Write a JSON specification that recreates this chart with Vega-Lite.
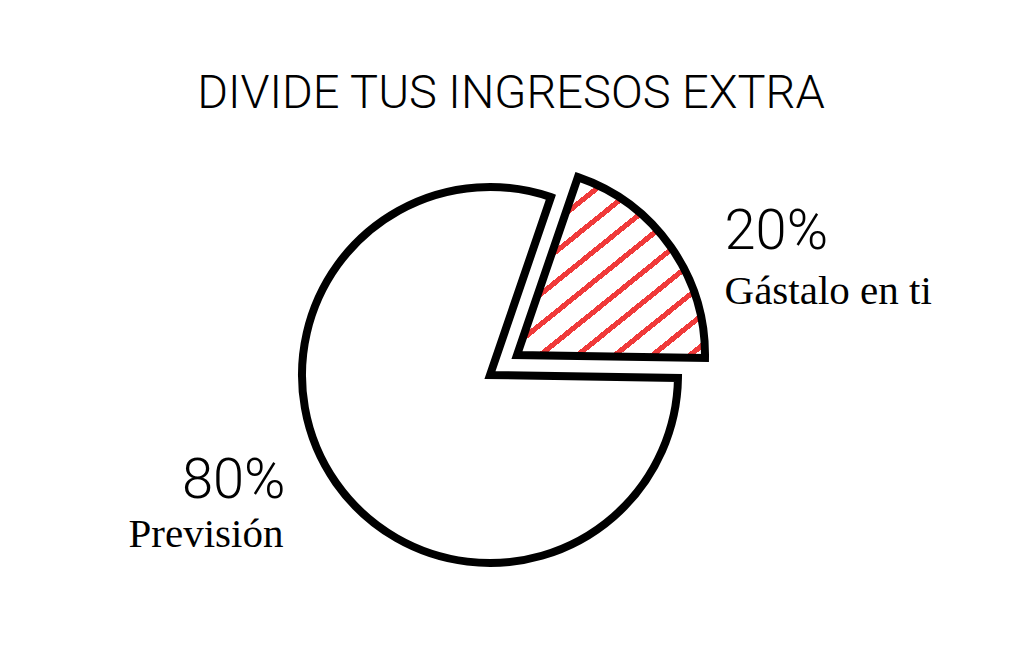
{
  "$schema": "https://vega.github.io/schema/vega-lite/v6.json",
  "width": 980,
  "height": 558,
  "autosize": {"type": "none"},
  "padding": {"left": 0, "top": 96, "right": 44, "bottom": 0},
  "background": "white",
  "title": {
    "text": "DIVIDE TUS INGRESOS EXTRA",
    "font": "Roboto",
    "fontSize": 47,
    "fontWeight": 300,
    "color": "black",
    "anchor": "middle",
    "frame": "group",
    "offset": 0,
    "baseline": "alphabetic",
    "dy": 59,
    "dx": 21
  },
  "config": {"view": {"stroke": null}},
  "data": {
    "values": [
      {"categoria": "Gástalo en ti", "porcentaje": 20, "etiqueta": "20%"},
      {"categoria": "Previsión", "porcentaje": 80, "etiqueta": "80%"}
    ]
  },
  "encoding": {
    "theta": {"field": "porcentaje", "type": "quantitative", "stack": true, "scale": {"range": [0.33, 6.613]}},
    "order": {"field": "porcentaje", "type": "quantitative", "sort": "ascending"}
  },
  "layer": [
    {
      "mark": {"type": "arc", "radius": 188, "fill": "white", "stroke": "black", "strokeWidth": 8, "strokeJoin": "miter"},
      "encoding": {"opacity": {"condition": {"test": "datum.categoria == 'Previsión'", "value": 1}, "value": 0}}
    },
    {
      "mark": {
        "type": "arc", "radius": 188, "stroke": "black", "strokeWidth": 8, "strokeJoin": "miter",
        "xOffset": 27, "yOffset": -20,
        "fill": {
          "gradient": "linear", "x1": 0, "y1": 0, "x2": 0.906, "y2": 1.08,
          "stops": [
            {"offset": 0, "color": "#ffffff"},
            {"offset": 0.0355, "color": "#ffffff"}, {"offset": 0.0355, "color": "#f03a3a"}, {"offset": 0.0555, "color": "#f03a3a"}, {"offset": 0.0555, "color": "#ffffff"},
            {"offset": 0.1264, "color": "#ffffff"}, {"offset": 0.1264, "color": "#f03a3a"}, {"offset": 0.1464, "color": "#f03a3a"}, {"offset": 0.1464, "color": "#ffffff"},
            {"offset": 0.2173, "color": "#ffffff"}, {"offset": 0.2173, "color": "#f03a3a"}, {"offset": 0.2373, "color": "#f03a3a"}, {"offset": 0.2373, "color": "#ffffff"},
            {"offset": 0.3082, "color": "#ffffff"}, {"offset": 0.3082, "color": "#f03a3a"}, {"offset": 0.3282, "color": "#f03a3a"}, {"offset": 0.3282, "color": "#ffffff"},
            {"offset": 0.3991, "color": "#ffffff"}, {"offset": 0.3991, "color": "#f03a3a"}, {"offset": 0.4191, "color": "#f03a3a"}, {"offset": 0.4191, "color": "#ffffff"},
            {"offset": 0.490, "color": "#ffffff"}, {"offset": 0.490, "color": "#f03a3a"}, {"offset": 0.510, "color": "#f03a3a"}, {"offset": 0.510, "color": "#ffffff"},
            {"offset": 0.5809, "color": "#ffffff"}, {"offset": 0.5809, "color": "#f03a3a"}, {"offset": 0.6009, "color": "#f03a3a"}, {"offset": 0.6009, "color": "#ffffff"},
            {"offset": 0.6718, "color": "#ffffff"}, {"offset": 0.6718, "color": "#f03a3a"}, {"offset": 0.6918, "color": "#f03a3a"}, {"offset": 0.6918, "color": "#ffffff"},
            {"offset": 0.7627, "color": "#ffffff"}, {"offset": 0.7627, "color": "#f03a3a"}, {"offset": 0.7827, "color": "#f03a3a"}, {"offset": 0.7827, "color": "#ffffff"},
            {"offset": 0.8536, "color": "#ffffff"}, {"offset": 0.8536, "color": "#f03a3a"}, {"offset": 0.8736, "color": "#f03a3a"}, {"offset": 0.8736, "color": "#ffffff"},
            {"offset": 0.9445, "color": "#ffffff"}, {"offset": 0.9445, "color": "#f03a3a"}, {"offset": 0.9645, "color": "#f03a3a"}, {"offset": 0.9645, "color": "#ffffff"},
            {"offset": 1, "color": "#ffffff"}
          ]
        }
      },
      "encoding": {"opacity": {"condition": {"test": "datum.categoria == 'Gástalo en ti'", "value": 1}, "value": 0}}
    },
    {
      "mark": {"type": "text", "radius": 250, "font": "Roboto", "fontWeight": 300, "fontSize": 56, "align": "left", "baseline": "alphabetic", "dx": 30, "dy": 18, "color": "black"},
      "encoding": {
        "text": {"field": "etiqueta"},
        "opacity": {"condition": {"test": "datum.categoria == 'Gástalo en ti'", "value": 1}, "value": 0}
      }
    },
    {
      "mark": {"type": "text", "radius": 250, "font": "Liberation Serif", "fontSize": 41, "align": "left", "baseline": "alphabetic", "dx": 30, "dy": 73, "color": "black"},
      "encoding": {
        "text": {"field": "categoria"},
        "opacity": {"condition": {"test": "datum.categoria == 'Gástalo en ti'", "value": 1}, "value": 0}
      }
    },
    {
      "mark": {"type": "text", "radius": 250, "font": "Roboto", "fontWeight": 300, "fontSize": 56, "align": "right", "baseline": "alphabetic", "dx": 0, "dy": -21, "color": "black"},
      "encoding": {
        "text": {"field": "etiqueta"},
        "opacity": {"condition": {"test": "datum.categoria == 'Previsión'", "value": 1}, "value": 0}
      }
    },
    {
      "mark": {"type": "text", "radius": 250, "font": "Liberation Serif", "fontSize": 41, "align": "right", "baseline": "alphabetic", "dx": -2, "dy": 28, "color": "black"},
      "encoding": {
        "text": {"field": "categoria"},
        "opacity": {"condition": {"test": "datum.categoria == 'Previsión'", "value": 1}, "value": 0}
      }
    }
  ]
}
